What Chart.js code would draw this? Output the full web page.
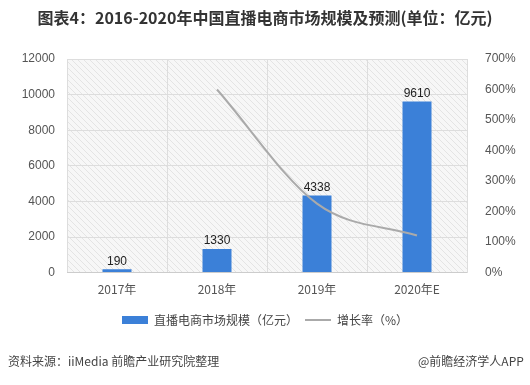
<!DOCTYPE html>
<html>
<head>
<meta charset="utf-8">
<script src="https://cdn.jsdelivr.net/npm/chart.js@4/dist/chart.umd.min.js"></script>
<style>
  html, body { margin: 0; padding: 0; background: #fff; }
  #wrap { width: 530px; height: 385px; position: relative; }
</style>
</head>
<body>
<div id="wrap"><canvas id="chartLite" width="530" height="385"></canvas></div>
<script>
const years = ['2017年', '2018年', '2019年', '2020年E'];
const marketSize = [190, 1330, 4338, 9610];
const growthRate = [null, 600, 226, 121.5];
const leftTicks = [0, 2000, 4000, 6000, 8000, 10000, 12000];
const rightTicks = [0, 100, 200, 300, 400, 500, 600, 700];

const cjk = '"Noto Sans CJK SC", "Noto Sans", sans-serif';
const latin = '"Liberation Sans", Arial, sans-serif';

// hatched background for the plot area
function makeHatch() {
    const c = document.createElement('canvas');
    c.width = 6; c.height = 6;
    const g = c.getContext('2d');
    g.fillStyle = '#f7f7f7';
    g.fillRect(0, 0, 6, 6);
    g.strokeStyle = '#e4e4e4';
    g.lineWidth = 1;
    g.beginPath();
    g.moveTo(0, 0); g.lineTo(6, 6);
    g.moveTo(-3, 3); g.lineTo(3, 9);
    g.moveTo(3, -3); g.lineTo(9, 3);
    g.stroke();
    return c;
}
const hatchCanvas = makeHatch();

const bgPlugin = {
    id: 'bg',
    beforeDraw(chart) {
        const a = chart.chartArea;
        const ctx = chart.ctx;
        ctx.save();
        ctx.fillStyle = ctx.createPattern(hatchCanvas, 'repeat');
        ctx.fillRect(a.left, a.top, a.right - a.left, a.bottom - a.top);
        ctx.restore();
    }
};

const textPlugin = {
    id: 'texts',
    afterDraw(chart) {
        const ctx = chart.ctx;
        ctx.save();
        // title
        ctx.fillStyle = '#333';
        ctx.font = 'bold 16px ' + cjk;
        ctx.textAlign = 'center';
        ctx.textBaseline = 'middle';
        ctx.fillText('图表4：2016-2020年中国直播电商市场规模及预测(单位：亿元)', 265, 18);
        // footer
        ctx.font = '12px ' + cjk;
        ctx.fillStyle = '#444';
        ctx.textAlign = 'left';
        ctx.fillText('资料来源：iiMedia 前瞻产业研究院整理', 8, 361);
        ctx.fillText('@前瞻经济学人APP', 418, 361);
        // bar value labels
        const meta = chart.getDatasetMeta(0);
        ctx.font = '12px ' + latin;
        ctx.fillStyle = '#222';
        ctx.textAlign = 'center';
        ctx.textBaseline = 'bottom';
        meta.data.forEach((bar, i) => {
            ctx.fillText(String(marketSize[i]), bar.x, bar.y - 2);
        });
        ctx.restore();
    }
};

let data = {
    labels: years,
    datasets: [{
            type: 'bar',
            label: '直播电商市场规模（亿元）',
            data: marketSize,
            yAxisID: 'y',
            backgroundColor: '#3b80d8',
            borderWidth: 0,
            barPercentage: 0.58,
            categoryPercentage: 0.5,
            pointStyle: 'rect',
            order: 2
        },
        {
            type: 'line',
            label: '增长率（%）',
            data: growthRate,
            yAxisID: 'y1',
            borderColor: '#aaaaaa',
            backgroundColor: '#aaaaaa',
            borderWidth: 2,
            pointRadius: 0,
            pointStyle: 'line',
            pointBorderWidth: 2,
            cubicInterpolationMode: 'monotone',
            fill: false,
            order: 1
        }
    ]
};

let options = {
    responsive: false,
    animation: false,
    layout: {
        padding: { top: 59, bottom: 49, left: 0, right: 0 }
    },
    scales: {
        x: {
            grid: { color: '#dddddd', drawTicks: false },
            border: { color: '#cccccc' },
            ticks: {
                color: '#555',
                padding: 10,
                font: { size: 12, family: cjk }
            }
        },
        y: {
            position: 'left',
            min: 0,
            max: 12000,
            afterBuildTicks: (s) => { s.ticks = leftTicks.map(v => ({ value: v })); },
            afterFit: (s) => { s.width = 67; },
            grid: { color: '#dddddd', drawTicks: false },
            border: { display: false },
            ticks: {
                color: '#555',
                padding: 12,
                callback: (v) => String(v),
                font: { size: 12, family: latin }
            }
        },
        y1: {
            position: 'right',
            min: 0,
            max: 700,
            afterBuildTicks: (s) => { s.ticks = rightTicks.map(v => ({ value: v })); },
            afterFit: (s) => { s.width = 63; },
            grid: { display: false },
            border: { color: '#dddddd' },
            ticks: {
                color: '#555',
                padding: 10,
                callback: (v) => v + '%',
                font: { size: 12, family: latin }
            }
        }
    },
    plugins: {
        legend: {
            position: 'bottom',
            labels: {
                usePointStyle: true,
                pointStyleWidth: 26,
                boxHeight: 8,
                padding: 7,
                color: '#444',
                font: { size: 12, family: cjk },
                sort: (a, b) => a.datasetIndex - b.datasetIndex
            }
        },
        tooltip: { enabled: false }
    }
};

const ctx = document.getElementById('chartLite').getContext('2d');
const myChart = new Chart(ctx, {
    data: data,
    options: options,
    plugins: [bgPlugin, textPlugin]
});
</script>
</body>
</html>
